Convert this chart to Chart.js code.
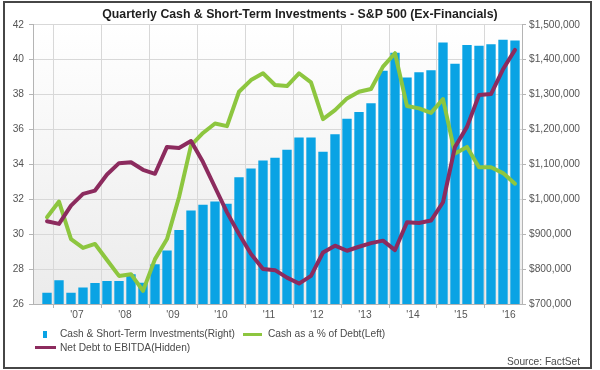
<!DOCTYPE html>
<html>
<head>
<meta charset="utf-8">
<script src="https://cdn.jsdelivr.net/npm/chart.js@4.4.1/dist/chart.umd.min.js"></script>
<style>
    body { margin: 0; background: #fff; }
    #wrap { position: relative; width: 600px; height: 370px; font-family: 'Liberation Sans', Arial, sans-serif; color: #4a4a4a; }
    #chart { position: absolute; left: 0; top: 0; }
    #frame { position: absolute; left: 3px; top: 1px; width: 589px; height: 368px; box-sizing: border-box; border: 2px solid #464646; pointer-events: none; }
    .lg { position: absolute; font-size: 10.2px; line-height: 12px; white-space: nowrap; }
    .sw { position: absolute; }
</style>
</head>
<body>
<div id="wrap">
    <canvas id="chart" width="600" height="370"></canvas>
    <div id="legend"></div>
    <div id="frame"></div>
</div>
<script>
// ======== Data ========
const quarters = [
    "Q4 '06",
    "Q1 '07", "Q2 '07", "Q3 '07", "Q4 '07",
    "Q1 '08", "Q2 '08", "Q3 '08", "Q4 '08",
    "Q1 '09", "Q2 '09", "Q3 '09", "Q4 '09",
    "Q1 '10", "Q2 '10", "Q3 '10", "Q4 '10",
    "Q1 '11", "Q2 '11", "Q3 '11", "Q4 '11",
    "Q1 '12", "Q2 '12", "Q3 '12", "Q4 '12",
    "Q1 '13", "Q2 '13", "Q3 '13", "Q4 '13",
    "Q1 '14", "Q2 '14", "Q3 '14", "Q4 '14",
    "Q1 '15", "Q2 '15", "Q3 '15", "Q4 '15",
    "Q1 '16", "Q2 '16", "Q3 '16"
];
const yearLabels = ["'07", "'08", "'09", "'10", "'11", "'12", "'13", "'14", "'15", "'16"];

// Cash & short-term investments, $ (right axis)
const cashInvestments = [
    732000, 768000, 732000, 747000, 760000, 766000, 766000, 785000, 761000, 814000,
    853000, 912000, 968000, 984000, 994000, 987000, 1063000, 1088000, 1111000, 1119000,
    1142000, 1177000, 1177000, 1136000, 1186000, 1231000, 1250000, 1275000, 1368000, 1420000,
    1349000, 1364000, 1370000, 1449000, 1388000, 1442000, 1440000, 1444000, 1457000, 1455000
];
// Cash as a % of debt (left axis)
const cashPctDebt = [
    30.97, 31.87, 29.72, 29.21, 29.44, 28.52, 27.61, 27.71, 26.75, 28.57,
    29.72, 32.12, 35.09, 35.80, 36.34, 36.19, 38.16, 38.83, 39.22, 38.55,
    38.49, 39.22, 38.70, 36.59, 37.11, 37.78, 38.16, 38.32, 39.60, 40.37,
    37.34, 37.21, 36.95, 37.74, 34.62, 35.00, 33.84, 33.84, 33.50, 32.89
];
// Net debt to EBITDA (hidden axis, read in left-axis units)
const netDebtEbitda = [
    30.74, 30.59, 31.64, 32.31, 32.50, 33.42, 34.07, 34.12, 33.69, 33.46,
    35.00, 34.94, 35.34, 34.13, 32.69, 31.25, 30.01, 28.86, 28.00, 27.94,
    27.51, 27.17, 27.61, 28.95, 29.34, 29.05, 29.28, 29.49, 29.63, 29.09,
    30.68, 30.64, 30.78, 31.83, 35.00, 36.15, 37.97, 38.03, 39.45, 40.56
];
const leftTicks = [26, 28, 30, 32, 34, 36, 38, 40, 42];
const rightTicks = [700000, 800000, 900000, 1000000, 1100000, 1200000, 1300000, 1400000, 1500000];

// ======== Styles ========
const BLUE = '#0aa3e4';
const GREEN = '#8dc63f';
const PURPLE = '#8c2b5e';
const FONT = "'Liberation Sans', Arial, sans-serif";
const GRID = '#d8d8d8';
const AXIS = '#b4b4b4';

const asPoints = values => values.map((v, i) => ({ x: i, y: v }));

// year boundaries sit before Q1 of each year, labels in the middle of the year
const isBoundary = v => Math.abs(((v - 0.5) % 4)) < 1e-6;
const xTickValues = [];
yearLabels.forEach((_, k) => { xTickValues.push(0.5 + 4 * k, 2.5 + 4 * k); });

const plotBackground = {
    id: 'plotBackground',
    beforeDraw(chart) {
        const { ctx, chartArea: a } = chart;
        const g = ctx.createLinearGradient(0, a.top, 0, a.bottom);
        g.addColorStop(0, '#ffffff');
        g.addColorStop(1, '#ebebeb');
        ctx.save();
        ctx.fillStyle = g;
        ctx.fillRect(a.left, a.top, a.right - a.left, a.bottom - a.top);
        ctx.restore();
    }
};

new Chart(document.getElementById('chart').getContext('2d'), {
    data: {
        datasets: [
            {
                type: 'line', label: 'Net Debt to EBITDA(Hidden)', data: asPoints(netDebtEbitda),
                yAxisID: 'yHidden', borderColor: PURPLE, borderWidth: 4, pointRadius: 0,
                tension: 0, borderJoinStyle: 'round', borderCapStyle: 'round', order: 1
            },
            {
                type: 'line', label: 'Cash as a % of Debt(Left)', data: asPoints(cashPctDebt),
                yAxisID: 'y', borderColor: GREEN, borderWidth: 4, pointRadius: 0,
                tension: 0, borderJoinStyle: 'round', borderCapStyle: 'round', order: 2
            },
            {
                type: 'bar', label: 'Cash & Short-Term Investments(Right)', data: asPoints(cashInvestments),
                yAxisID: 'yRight', backgroundColor: BLUE, categoryPercentage: 1, barPercentage: 0.78, order: 3
            }
        ]
    },
    options: {
        responsive: false,
        animation: false,
        devicePixelRatio: 1,
        layout: { padding: { left: 0, right: 0, top: 0, bottom: 46 } },
        plugins: {
            legend: { display: false },
            tooltip: { enabled: false },
            title: {
                display: true,
                text: 'Quarterly Cash & Short-Term Investments - S&P 500 (Ex-Financials)',
                color: '#1e1e1e',
                font: { family: FONT, size: 12.3, weight: 'bold' },
                padding: { top: 7, bottom: 3 }
            }
        },
        scales: {
            x: {
                type: 'linear',
                bounds: 'data',
                offset: false,
                min: -14 / 12,
                max: 39 + 7 / 12,
                afterBuildTicks: s => { s.ticks = xTickValues.map(v => ({ value: v })); },
                afterFit: s => { s.height = 20; },
                grid: {
                    offset: false,
                    color: c => (c.tick && isBoundary(c.tick.value)) ? GRID : 'rgba(0,0,0,0)',
                    tickColor: c => (c.tick && isBoundary(c.tick.value)) ? AXIS : 'rgba(0,0,0,0)',
                    tickLength: 4
                },
                border: { color: AXIS },
                ticks: {
                    autoSkip: false, maxRotation: 0, padding: 1,
                    color: '#555', font: { family: FONT, size: 10.2 },
                    callback: v => isBoundary(v) ? '' : yearLabels[Math.round((v - 2.5) / 4)]
                }
            },
            y: {
                position: 'left',
                min: leftTicks[0], max: leftTicks[leftTicks.length - 1],
                afterBuildTicks: s => { s.ticks = leftTicks.map(v => ({ value: v })); },
                afterFit: s => { s.width = 33; },
                grid: { color: GRID, tickColor: AXIS, tickLength: 4 },
                border: { color: AXIS },
                ticks: { padding: 5, color: '#555', font: { family: FONT, size: 10.2 } }
            },
            yRight: {
                position: 'right',
                min: rightTicks[0], max: rightTicks[rightTicks.length - 1],
                afterBuildTicks: s => { s.ticks = rightTicks.map(v => ({ value: v })); },
                afterFit: s => { s.width = 78; },
                grid: { drawOnChartArea: false, tickColor: AXIS, tickLength: 4 },
                border: { color: AXIS },
                ticks: {
                    padding: 3, color: '#555', font: { family: FONT, size: 10.2 },
                    callback: v => '$' + v.toLocaleString('en-US')
                }
            },
            yHidden: {
                display: false,
                min: leftTicks[0], max: leftTicks[leftTicks.length - 1]
            }
        }
    },
    plugins: [plotBackground]
});

// ======== Legend ========
const legend = document.getElementById('legend');
legend.innerHTML = `
    <div class="sw" style="left:43px;top:331px;width:4px;height:7px;background:${BLUE}"></div>
    <div class="lg" style="left:60px;top:328px">Cash &amp; Short-Term Investments(Right)</div>
    <div class="sw" style="left:243px;top:333px;width:19px;height:3px;background:${GREEN}"></div>
    <div class="lg" style="left:268px;top:328px">Cash as a % of Debt(Left)</div>
    <div class="sw" style="left:35px;top:346px;width:21px;height:3px;background:${PURPLE}"></div>
    <div class="lg" style="left:60px;top:342px">Net Debt to EBITDA(Hidden)</div>
    <div class="lg" style="right:20px;top:356px">Source: FactSet</div>
`;
</script>
</body>
</html>
